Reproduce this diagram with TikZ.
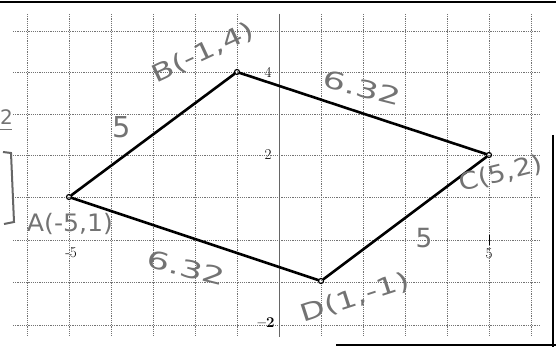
\documentclass[tikz,border=0pt]{standalone}
\usepackage{fontspec}
\setsansfont{DejaVu Sans}
\begin{document}
\begin{tikzpicture}[x=1pt,y=-1pt,
  gridline/.style={draw=black!55,line width=0.7pt,dash pattern=on 1.2pt off 1pt},
  axisline/.style={draw=black!60,line width=0.7pt},
  border/.style={draw=black,line width=1.6pt},
  vtx/.style={circle,draw=black,line width=1.2pt,inner sep=0pt,minimum size=5pt},
  edge/.style={draw=black,line width=2.6pt,line cap=round},
  hand/.style={text=black!55,font=\sffamily\fontsize{24}{26}\selectfont,inner sep=0pt},
  tick/.style={text=black,font=\fontsize{15}{16}\selectfont,inner sep=1pt}]
\useasboundingbox (0,0) rectangle (556,347);
% grid
\foreach \x in {27,69,...,531} \draw[gridline] (\x,14) -- (\x,337);
\foreach \y in {31,72,114,155,197,240,282,325} \draw[gridline] (13,\y) -- (540,\y);
\draw[axisline] (279,14) -- (279,337);
% page borders
\draw[border] (0,2) -- (556,2);
\draw[border] (553,135) -- (553,347);
\draw[border] (336,345) -- (556,345);
% axis ticks and labels
\draw[black,line width=0.8pt] (489,235) -- (489,245);
\node[tick] (t4) at (268,72) {4};
\node[tick] (t2) at (268,155) {2};
\node[tick] (tm5) at (71,253) {-5};
\node[tick] (t5) at (489,254) {5};
\node[tick] (tm2) at (266,323) {\textbf{\textendash2}};
% vertices
\node[vtx] (A) at (69,197) {};
\node[vtx] (B) at (237,72) {};
\node[vtx] (C) at (489,155) {};
\node[vtx] (D) at (321,281) {};
\draw[edge] (A) -- (B) -- (C) -- (D) -- (A);
% handwritten labels
\node[hand,rotate=25,xscale=1.35] (lB) at (203,53) {B(-1,4)};
\node[hand,rotate=-14,xscale=1.5] (lAB) at (362,88) {6.32};
\node[hand,scale=1.2] (l5a) at (122,127) {5};
\node[hand,xscale=1.05] (lA) at (70,224) {A(-5,1)};
\node[hand,rotate=-14,xscale=1.5] (lAD) at (186,268) {6.32};
\node[hand,rotate=14,xscale=1.15] (lC) at (501,174) {C(5,2)};
\node[hand,scale=1.1] (l5b) at (424,238) {5};
\node[hand,rotate=18,xscale=1.35] (lD) at (355,298) {D(1,-1)};
% marks at left edge
\node[hand,anchor=west,font=\sffamily\fontsize{20}{22}\selectfont] (lfrag) at (0,117) {2};
\draw[black!55,line width=1pt] (0,130) -- (12,130);
\draw[black!60,line width=2pt] (3,152) -- (11,153) -- (14,222) -- (4,224);
\end{tikzpicture}
\end{document}
